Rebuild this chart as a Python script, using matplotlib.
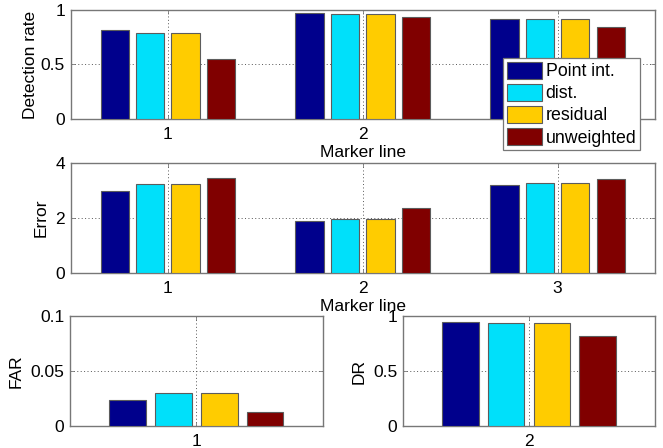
import matplotlib
matplotlib.use("Agg")
import matplotlib.pyplot as plt
import numpy as np

plt.rcParams['font.family'] = ['Liberation Sans', 'DejaVu Sans']

methods = ['Point int.', 'dist.', 'residual', 'unweighted']
colors = ['#00008C', '#00E0FA', '#FFCC00', '#800000']
marker_lines = [1, 2, 3]

# Detection rate per marker line (rows) and method (columns)
detection_rate = [
    [0.82, 0.79, 0.79, 0.555],
    [0.97, 0.965, 0.965, 0.935],
    [0.915, 0.915, 0.915, 0.848],
]
# Error per marker line and method
error = [
    [2.96, 3.23, 3.23, 3.45],
    [1.89, 1.95, 1.95, 2.34],
    [3.21, 3.28, 3.28, 3.43],
]
# False alarm rate and detection rate for the single-group panels
far = [0.0236, 0.0297, 0.0297, 0.013]
far_x = 1
dr = [0.945, 0.933, 0.933, 0.818]
dr_x = 2

W, H = 663, 448
fig = plt.figure(figsize=(W / 100, H / 100), dpi=100)


def px_axes(x0, x1, y0, y1):
    return fig.add_axes([x0 / W, 1 - y1 / H, (x1 - x0) / W, (y1 - y0) / H])


FRAME = '#777777'
EDGE = '#5c5c5c'
GRID = '#555555'
FS = 12.5

n = len(methods)
group_w = min(0.8, n / (n + 1.5))
bar_w = group_w / n * 0.8
offsets = [-group_w / 2 + group_w / (2 * n) + i * group_w / n for i in range(n)]


def draw_groups(ax, xs, table):
    table = np.asarray(table)
    for j in range(n):
        ax.bar(np.asarray(xs) + offsets[j], table[:, j], width=bar_w,
               color=colors[j], edgecolor=EDGE, linewidth=0.8, zorder=3,
               label=methods[j])


def style(ax, xlim, ylim, yticks, yticklabels, xticks, ylabel, xlabel=None,
          ylabelpad=5):
    ax.set_xlim(*xlim)
    ax.set_ylim(*ylim)
    ax.set_yticks(yticks)
    ax.set_yticklabels(yticklabels)
    ax.set_xticks(xticks)
    ax.set_xticklabels([str(t) for t in xticks])
    for s in ax.spines.values():
        s.set_color(FRAME)
        s.set_linewidth(1.0)
    ax.tick_params(direction='in', length=3, width=0.6, color=FRAME,
                   labelsize=FS, top=True, right=True)
    ax.tick_params(axis='x', pad=6)
    ax.tick_params(axis='y', pad=4)
    ax.grid(True, linestyle=(0, (1, 2.5)), color=GRID, linewidth=0.7, zorder=1)
    ax.set_axisbelow(True)
    ax.set_ylabel(ylabel, fontsize=FS, labelpad=ylabelpad)
    if xlabel:
        ax.set_xlabel(xlabel, fontsize=FS, labelpad=2)


ax1 = px_axes(70.5, 655, 10, 119)
draw_groups(ax1, marker_lines, detection_rate)
style(ax1, (0.5, 3.5), (0, 1), [0, 0.5, 1], ['0', '0.5', '1'],
      marker_lines, 'Detection rate', 'Marker line', ylabelpad=2)
leg = ax1.legend(loc='upper left', bbox_to_anchor=((503 - 70.5) / 584.5, 1 - (58 - 10) / 109),
                 fontsize=12.8, frameon=True, fancybox=False, framealpha=1,
                 borderpad=0.2, handlelength=2.0, handleheight=1.1,
                 handletextpad=0.2, labelspacing=0.2, borderaxespad=0)
leg.get_frame().set_edgecolor(FRAME)
leg.get_frame().set_linewidth(0.9)
leg.set_zorder(10)

ax2 = px_axes(70.5, 655, 163, 272.5)
draw_groups(ax2, marker_lines, error)
style(ax2, (0.5, 3.5), (0, 4), [0, 2, 4], ['0', '2', '4'],
      marker_lines, 'Error', 'Marker line')

ax3 = px_axes(70, 322.5, 316, 426)
draw_groups(ax3, [far_x], [far])
style(ax3, (far_x - 0.5, far_x + 0.5), (0, 0.1), [0, 0.05, 0.1],
      ['0', '0.05', '0.1'], [far_x], 'FAR')

ax4 = px_axes(403, 655, 316, 426)
draw_groups(ax4, [dr_x], [dr])
style(ax4, (dr_x - 0.5, dr_x + 0.5), (0, 1), [0, 0.5, 1], ['0', '0.5', '1'],
      [dr_x], 'DR')

fig.savefig('out.png', dpi=100)
